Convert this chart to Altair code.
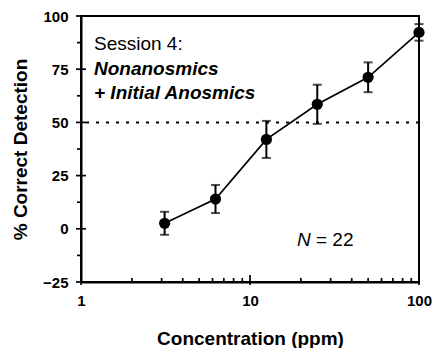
import altair as alt
import pandas as pd

# ---- data ----
concentration = [3.125, 6.25, 12.5, 25, 50, 100]
percent_correct = [2.6, 14.0, 42.0, 58.5, 71.2, 92.3]
error = [5.4, 6.6, 8.7, 9.2, 7.0, 3.9]

x_major = [1, 10, 100]
x_minor = [2, 3, 4, 5, 6, 7, 8, 9, 20, 30, 40, 50, 60, 70, 80, 90]
y_major = [-25, 0, 25, 50, 75, 100]
y_minor = [-12.5, 12.5, 37.5, 62.5, 87.5]
chance_level = [50]

session_line = ["Session 4:"]
group_line_1 = ["Nonanosmics"]
group_line_2 = ["+ Initial Anosmics"]
n_symbol = ["N"]
n_value = ["= 22"]

FONT = "Liberation Sans"
W, H = 338, 266

df = pd.DataFrame({"conc": concentration, "pct": percent_correct, "err": error})
df["lo"] = df["pct"] - df["err"]
df["hi"] = df["pct"] + df["err"]

xs = alt.Scale(type="log", domain=[1, 100], nice=False)
ys = alt.Scale(domain=[-25, 100], nice=False, zero=False)

base = alt.Chart(df)

line = base.mark_line(color="black", strokeWidth=1.7).encode(
    x=alt.X("conc:Q", scale=xs, axis=None),
    y=alt.Y("pct:Q", scale=ys, axis=None),
)
bars = base.mark_rule(color="black", strokeWidth=2).encode(
    x=alt.X("conc:Q", scale=xs, axis=None),
    y=alt.Y("lo:Q", scale=ys, axis=None),
    y2="hi:Q",
)
cap_hi = base.mark_tick(color="black", orient="horizontal", size=9, thickness=2).encode(
    x=alt.X("conc:Q", scale=xs, axis=None),
    y=alt.Y("hi:Q", scale=ys, axis=None),
)
cap_lo = base.mark_tick(color="black", orient="horizontal", size=9, thickness=2).encode(
    x=alt.X("conc:Q", scale=xs, axis=None),
    y=alt.Y("lo:Q", scale=ys, axis=None),
)
points = base.mark_circle(color="black", size=125, opacity=1).encode(
    x=alt.X("conc:Q", scale=xs, axis=None),
    y=alt.Y("pct:Q", scale=ys, axis=None),
)
chance = alt.Chart(pd.DataFrame({"y": chance_level})).mark_rule(
    color="black", strokeWidth=2, strokeDash=[3, 7]
).encode(y=alt.Y("y:Q", scale=ys, axis=None))

# main axes: labels and titles (ticks drawn as rules below)
axis_main = base.mark_point(opacity=0).encode(
    x=alt.X("conc:Q", scale=xs, axis=alt.Axis(
        orient="bottom", values=x_major, format="~g", ticks=False, grid=False,
        domain=True, domainWidth=2, domainColor="black", labelFlush=False,
        labelFont=FONT, labelFontSize=15, labelFontWeight="bold", labelColor="black",
        labelPadding=11, title="Concentration (ppm)", titleFont=FONT, titleFontSize=19,
        titleFontWeight="bold", titleColor="black", titlePadding=21)),
    y=alt.Y("pct:Q", scale=ys, axis=alt.Axis(
        orient="left", values=y_major, ticks=False, grid=False,
        domain=True, domainWidth=2, domainColor="black",
        labelFont=FONT, labelFontSize=15, labelFontWeight="bold", labelColor="black",
        labelPadding=13, title="% Correct Detection", titleFont=FONT, titleFontSize=19,
        titleFontWeight="bold", titleColor="black", titlePadding=12)),
)

TW = 1.7
x_major_ticks = alt.Chart(pd.DataFrame({"v": x_major})).mark_rule(
    color="black", strokeWidth=TW
).encode(x=alt.X("v:Q", scale=xs, axis=None), y=alt.value(H + 3), y2=alt.value(H - 7))
x_minor_ticks = alt.Chart(pd.DataFrame({"v": x_minor})).mark_rule(
    color="black", strokeWidth=TW
).encode(x=alt.X("v:Q", scale=xs, axis=None), y=alt.value(H), y2=alt.value(H - 4))
y_major_ticks = alt.Chart(pd.DataFrame({"v": y_major})).mark_rule(
    color="black", strokeWidth=TW
).encode(y=alt.Y("v:Q", scale=ys, axis=None), x=alt.value(-5), x2=alt.value(5))
y_minor_ticks = alt.Chart(pd.DataFrame({"v": y_minor})).mark_rule(
    color="black", strokeWidth=TW
).encode(y=alt.Y("v:Q", scale=ys, axis=None), x=alt.value(-4), x2=alt.value(0))


def label(lines, x, y, **style):
    return alt.Chart(pd.DataFrame({"t": lines})).mark_text(
        font=FONT, fontSize=19, color="black", align="left", baseline="alphabetic", **style
    ).encode(text="t:N", x=alt.value(x), y=alt.value(y))


txt_session = label(session_line, 13, 34)
txt_group1 = label(group_line_1, 13, 59, fontWeight="bold", fontStyle="italic")
txt_group2 = label(group_line_2, 13, 83, fontWeight="bold", fontStyle="italic")
txt_n = label(n_symbol, 216, 230, fontStyle="italic")
txt_nv = label(n_value, 235, 230)

chart = alt.layer(
    axis_main, x_major_ticks, x_minor_ticks, y_major_ticks, y_minor_ticks,
    chance, line, bars, cap_hi, cap_lo, points,
    txt_session, txt_group1, txt_group2, txt_n, txt_nv,
).resolve_axis(x="independent", y="independent").properties(
    width=W, height=H,
    autosize=alt.AutoSizeParams(type="none"),
    padding={"left": 81, "top": 16, "right": 13, "bottom": 66},
    background="white",
).configure_view(stroke="black", strokeWidth=2)

chart.save("out.html", embed_options={"renderer": "svg", "actions": False})
